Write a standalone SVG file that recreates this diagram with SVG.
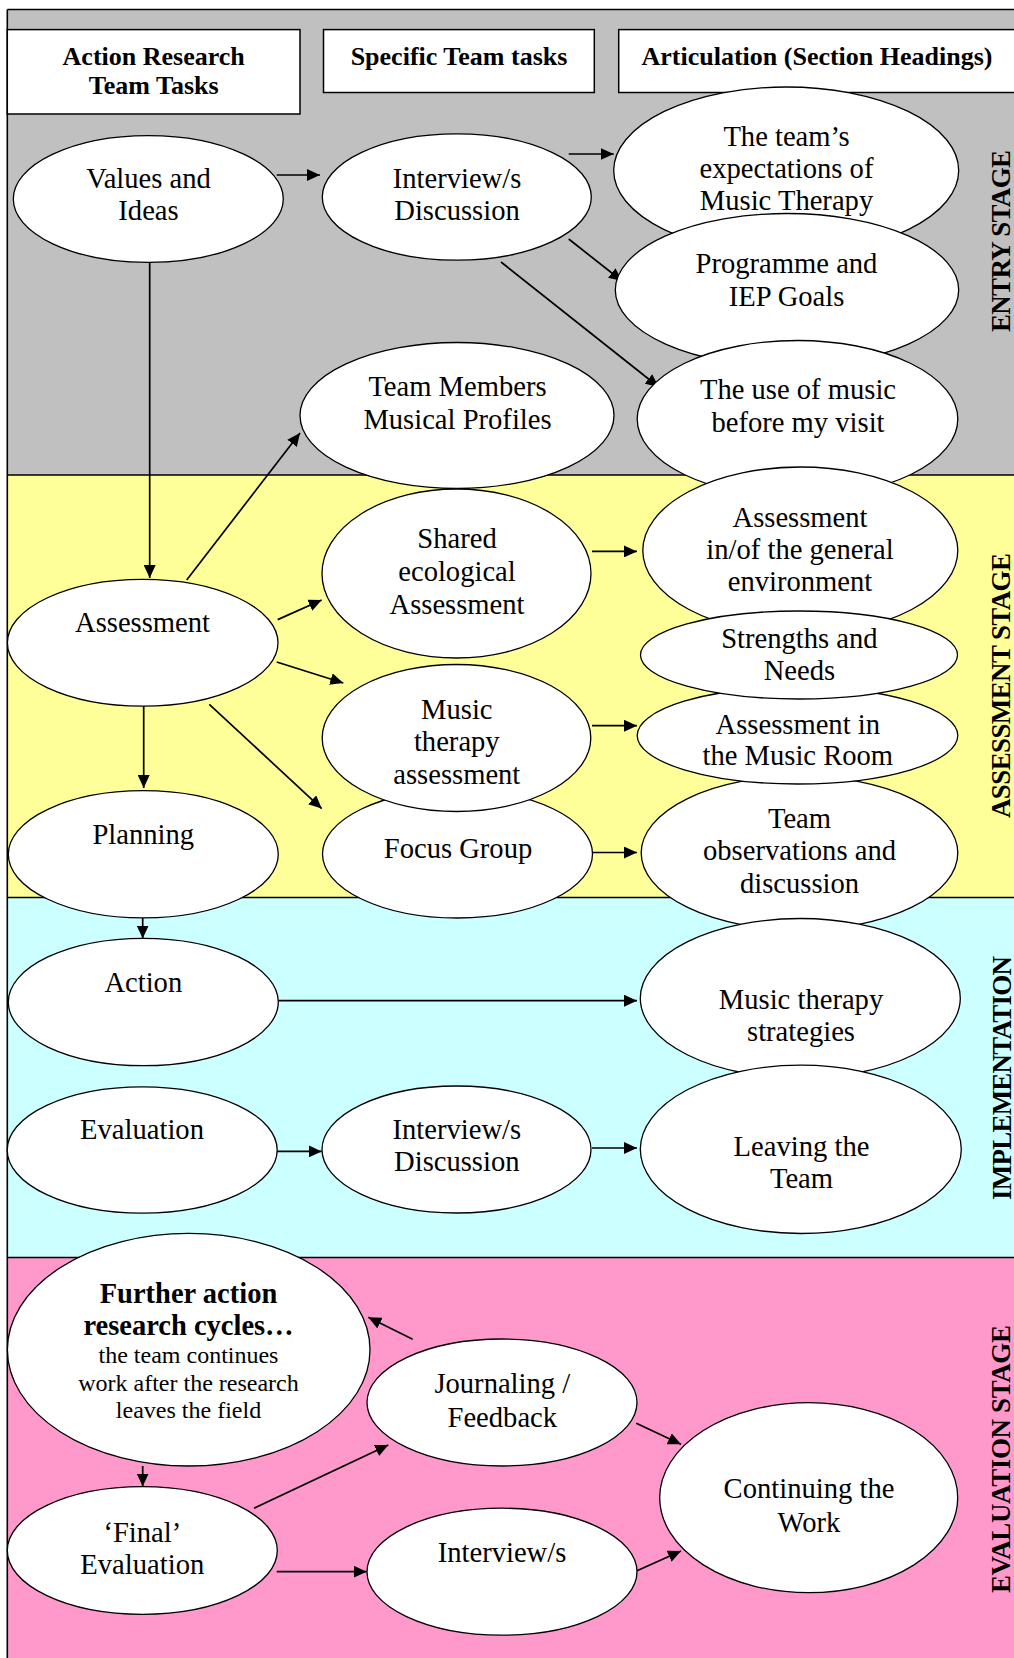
<svg xmlns="http://www.w3.org/2000/svg" width="1014" height="1658" viewBox="0 0 1014 1658">
  <defs>
    <marker id="arrow" markerUnits="userSpaceOnUse" markerWidth="14" markerHeight="12" refX="13" refY="6" orient="auto">
      <path d="M0,0 L13,6 L0,12 z" fill="#000"/>
    </marker>
    <style>
      .band { stroke: none; }
      .rule { stroke: #000; stroke-width: 1.6; fill: none; }
      .hdr rect { fill: #fff; stroke: #000; stroke-width: 1.5; }
      .node ellipse { fill: #fff; stroke: #000; stroke-width: 1.3; }
      text { font-family: "Liberation Serif", "Times New Roman", serif; fill: #000; text-anchor: middle; }
      .t { font-size: 28.6px; }
      .tb { font-size: 28.5px; font-weight: bold; }
      .ts { font-size: 24px; }
      .th { font-size: 26px; font-weight: bold; }
      .stage { font-size: 27px; font-weight: bold; }
      #connectors line { stroke: #000; stroke-width: 1.7; marker-end: url(#arrow); }
    </style>
  </defs>

  <rect width="1014" height="1658" fill="#fff"/>

  <!-- stage bands -->
  <g id="bands">
    <rect class="band" x="7.3" y="9.5" width="1007" height="465.5" fill="#C0C0C0"/>
    <rect class="band" x="7.3" y="475" width="1007" height="422.5" fill="#FFFF99"/>
    <rect class="band" x="7.3" y="897.5" width="1007" height="360" fill="#CCFFFF"/>
    <rect class="band" x="7.3" y="1257.5" width="1007" height="401" fill="#FF99CC"/>
    <line class="rule" x1="7.3" y1="9.5" x2="1014" y2="9.5"/>
    <line class="rule" x1="7.3" y1="9.5" x2="7.3" y2="1658"/>
    <line class="rule" x1="7.3" y1="475" x2="1014" y2="475"/>
    <line class="rule" x1="7.3" y1="897.5" x2="1014" y2="897.5"/>
    <line class="rule" x1="7.3" y1="1257.5" x2="1014" y2="1257.5"/>
  </g>

  <!-- stage labels -->
  <g id="stage-labels">
    <text class="stage" x="1010" y="241" transform="rotate(-90 1010 241)" textLength="182" lengthAdjust="spacing">ENTRY STAGE</text>
    <text class="stage" x="1010" y="685.5" transform="rotate(-90 1010 685.5)" textLength="265" lengthAdjust="spacing">ASSESSMENT STAGE</text>
    <text class="stage" x="1011" y="1078" transform="rotate(-90 1011 1078)" textLength="244" lengthAdjust="spacing">IMPLEMENTATION</text>
    <text class="stage" x="1010" y="1459" transform="rotate(-90 1010 1459)" textLength="268" lengthAdjust="spacing">EVALUATION STAGE</text>
  </g>

  <!-- column headings -->
  <g id="hdr-action" class="hdr">
    <rect x="7.3" y="29.6" width="292.7" height="84.4"/>
    <text class="th" x="153.7" y="65">Action Research</text>
    <text class="th" x="153.7" y="94">Team Tasks</text>
  </g>
  <g id="hdr-specific" class="hdr">
    <rect x="323.5" y="29.6" width="270.8" height="62.9"/>
    <text class="th" x="459" y="65">Specific Team tasks</text>
  </g>
  <g id="hdr-articulation" class="hdr">
    <rect x="618.7" y="29.6" width="400" height="62.9"/>
    <text class="th" x="817" y="65">Articulation (Section Headings)</text>
  </g>

  <!-- connectors -->
  <g id="connectors">
    <line x1="276.7" y1="175" x2="320" y2="175"/>
    <line x1="568.7" y1="154" x2="613.7" y2="154"/>
    <line x1="568.7" y1="239" x2="622" y2="281"/>
    <line x1="501" y1="262" x2="658.7" y2="387"/>
    <line x1="149.7" y1="259.6" x2="149.7" y2="578"/>
    <line x1="186.7" y1="580" x2="300" y2="433"/>
    <line x1="277.7" y1="619.6" x2="321.7" y2="600"/>
    <line x1="276.7" y1="662" x2="343.3" y2="683"/>
    <line x1="209.3" y1="704.3" x2="321.7" y2="808.6"/>
    <line x1="143.7" y1="704" x2="143.7" y2="788"/>
    <line x1="592" y1="551.4" x2="637" y2="551.4"/>
    <line x1="592" y1="725.7" x2="637" y2="725.7"/>
    <line x1="592" y1="852.5" x2="637" y2="852.5"/>
    <line x1="142.7" y1="917.9" x2="142.7" y2="938.5"/>
    <line x1="278.3" y1="1000.7" x2="637" y2="1000.7"/>
    <line x1="276.7" y1="1151.4" x2="321.7" y2="1151.4"/>
    <line x1="592" y1="1148" x2="637" y2="1148"/>
    <line x1="412.7" y1="1339.3" x2="368.3" y2="1317.3"/>
    <line x1="142.7" y1="1466" x2="142.7" y2="1486.5"/>
    <line x1="254" y1="1508.3" x2="388.3" y2="1445"/>
    <line x1="276.7" y1="1571.7" x2="366.7" y2="1571.7"/>
    <line x1="636.3" y1="1423.3" x2="681" y2="1444.3"/>
    <line x1="637" y1="1570.7" x2="681" y2="1551"/>
  </g>

  <!-- entry stage -->
  <g id="n-values" class="node">
    <ellipse cx="148.3" cy="199" rx="135" ry="63.4"/>
    <text class="t" x="148.5" y="187.5">Values and</text>
    <text class="t" x="148.5" y="219.6">Ideas</text>
  </g>
  <g id="n-interview1" class="node">
    <ellipse cx="456.8" cy="197" rx="134.5" ry="63.2"/>
    <text class="t" x="457" y="187.5">Interview/s</text>
    <text class="t" x="457" y="219.6">Discussion</text>
  </g>
  <g id="n-expectations" class="node">
    <ellipse cx="786.2" cy="170.5" rx="172.5" ry="83.5"/>
    <text class="t" x="786.5" y="146">The team’s</text>
    <text class="t" x="786.5" y="178.2">expectations of</text>
    <text class="t" x="786.5" y="210.4">Music Therapy</text>
  </g>
  <g id="n-programme" class="node">
    <ellipse cx="787" cy="290" rx="171.7" ry="76.5"/>
    <text class="t" x="786.5" y="272.9">Programme and</text>
    <text class="t" x="786.5" y="305.7">IEP Goals</text>
  </g>
  <g id="n-team-members" class="node">
    <ellipse cx="457" cy="415.5" rx="157" ry="73"/>
    <text class="t" x="457.5" y="396.4">Team Members</text>
    <text class="t" x="457.5" y="429.3">Musical Profiles</text>
  </g>
  <g id="n-music-before" class="node">
    <ellipse cx="797.5" cy="419" rx="160.3" ry="78.5"/>
    <text class="t" x="798" y="399">The use of music</text>
    <text class="t" x="798" y="431.8">before my visit</text>
  </g>

  <!-- assessment stage -->
  <g id="n-assessment" class="node">
    <ellipse cx="142.7" cy="642.8" rx="135.3" ry="63.4"/>
    <text class="t" x="142.5" y="632">Assessment</text>
  </g>
  <g id="n-shared" class="node">
    <ellipse cx="456.5" cy="573.5" rx="134.5" ry="84.5"/>
    <text class="t" x="457" y="548">Shared</text>
    <text class="t" x="457" y="581">ecological</text>
    <text class="t" x="457" y="614">Assessment</text>
  </g>
  <g id="n-general" class="node">
    <ellipse cx="800.3" cy="550.5" rx="157.5" ry="83.5"/>
    <text class="t" x="800" y="526.5">Assessment</text>
    <text class="t" x="800" y="559">in/of the general</text>
    <text class="t" x="800" y="591">environment</text>
  </g>
  <g id="n-team-obs" class="node">
    <ellipse cx="799.5" cy="853" rx="158.3" ry="77"/>
    <text class="t" x="799.5" y="828.2">Team</text>
    <text class="t" x="799.5" y="859.6">observations and</text>
    <text class="t" x="799.5" y="892.5">discussion</text>
  </g>
  <g id="n-music-room" class="node">
    <ellipse cx="797.5" cy="735.5" rx="160.3" ry="48.5"/>
    <text class="t" x="797.8" y="733.6">Assessment in</text>
    <text class="t" x="797.8" y="765">the Music Room</text>
  </g>
  <g id="n-strengths" class="node">
    <ellipse cx="799" cy="655" rx="158.5" ry="44"/>
    <text class="t" x="799.4" y="648">Strengths and</text>
    <text class="t" x="799.4" y="680">Needs</text>
  </g>
  <g id="n-focus" class="node">
    <ellipse cx="457.5" cy="854" rx="135" ry="64"/>
    <text class="t" x="458" y="857.9">Focus Group</text>
  </g>
  <g id="n-mt-assessment" class="node">
    <ellipse cx="456.5" cy="738" rx="134.3" ry="73.5"/>
    <text class="t" x="456.8" y="719.3">Music</text>
    <text class="t" x="456.8" y="751.4">therapy</text>
    <text class="t" x="456.8" y="783.6">assessment</text>
  </g>
  <g id="n-planning" class="node">
    <ellipse cx="143.3" cy="854.3" rx="135" ry="63.6"/>
    <text class="t" x="143.3" y="844.3">Planning</text>
  </g>

  <!-- implementation -->
  <g id="n-action" class="node">
    <ellipse cx="143.3" cy="1002" rx="135" ry="63.7"/>
    <text class="t" x="143.3" y="991.8">Action</text>
  </g>
  <g id="n-strategies" class="node">
    <ellipse cx="800.3" cy="998.3" rx="160" ry="79.8"/>
    <text class="t" x="801" y="1008.6">Music therapy</text>
    <text class="t" x="801" y="1040.7">strategies</text>
  </g>
  <g id="n-evaluation" class="node">
    <ellipse cx="142.2" cy="1150" rx="135" ry="63.2"/>
    <text class="t" x="142" y="1139.3">Evaluation</text>
  </g>
  <g id="n-interview2" class="node">
    <ellipse cx="456.5" cy="1149.5" rx="134.5" ry="63.5"/>
    <text class="t" x="456.8" y="1139.3">Interview/s</text>
    <text class="t" x="456.8" y="1171.4">Discussion</text>
  </g>
  <g id="n-leaving" class="node">
    <ellipse cx="800.8" cy="1149.3" rx="160.5" ry="84.2"/>
    <text class="t" x="801.5" y="1156">Leaving the</text>
    <text class="t" x="801.5" y="1188">Team</text>
  </g>

  <!-- evaluation stage -->
  <g id="n-further" class="node">
    <ellipse cx="188.7" cy="1349.7" rx="181.3" ry="116.3"/>
    <text class="tb" x="188.5" y="1303.3">Further action</text>
    <text class="tb" x="188.5" y="1335">research cycles…</text>
    <text class="ts" x="188.5" y="1363.3">the team continues</text>
    <text class="ts" x="188.5" y="1390.7">work after the research</text>
    <text class="ts" x="188.5" y="1418.3">leaves the field</text>
  </g>
  <g id="n-final" class="node">
    <ellipse cx="142.3" cy="1550.5" rx="135" ry="63.8"/>
    <text class="t" x="142.3" y="1541.7">‘Final’</text>
    <text class="t" x="142.3" y="1574.3">Evaluation</text>
  </g>
  <g id="n-journaling" class="node">
    <ellipse cx="502" cy="1402.5" rx="135" ry="63.5"/>
    <text class="t" x="502.3" y="1393.3">Journaling /</text>
    <text class="t" x="502.3" y="1426.7">Feedback</text>
  </g>
  <g id="n-interview3" class="node">
    <ellipse cx="502" cy="1571.7" rx="135" ry="63.5"/>
    <text class="t" x="502" y="1561.7">Interview/s</text>
  </g>
  <g id="n-continuing" class="node">
    <ellipse cx="808.7" cy="1497.7" rx="149" ry="95"/>
    <text class="t" x="809" y="1498.3">Continuing the</text>
    <text class="t" x="809" y="1531.7">Work</text>
  </g>
</svg>
